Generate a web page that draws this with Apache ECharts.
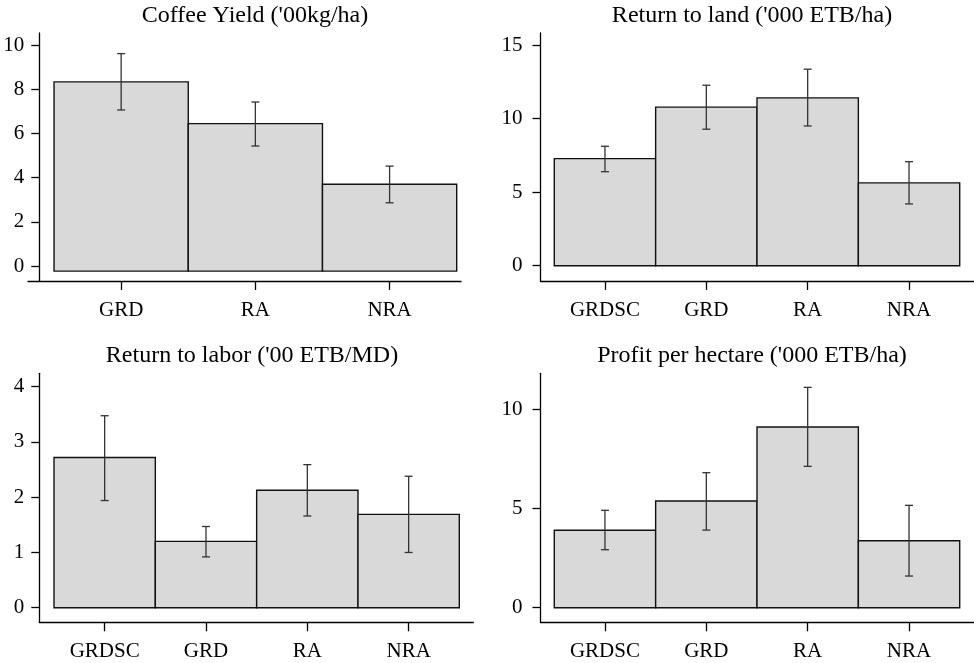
<!DOCTYPE html>
<html>
<head>
<meta charset="utf-8">
<script src="https://cdn.jsdelivr.net/npm/echarts@6/dist/echarts.min.js"></script>
<style>html,body{margin:0;padding:0;background:#fff}#c{width:974px;height:663px}</style>
</head>
<body>
<div id="c"></div>
<script>
// ---- data ----
const yieldCats = ['GRD', 'RA', 'NRA'];
const yieldMean = [8.33, 6.44, 3.70];
const yieldLo = [7.06, 5.43, 2.86];
const yieldHi = [9.61, 7.42, 4.52];
const yieldTicks = [0, 2, 4, 6, 8, 10];
const yieldBase = -0.23;

const cats = ['GRDSC', 'GRD', 'RA', 'NRA'];

const landMean = [7.28, 10.78, 11.41, 5.63];
const landLo = [6.39, 9.28, 9.50, 4.20];
const landHi = [8.12, 12.27, 13.36, 7.07];
const landTicks = [0, 5, 10, 15];

const laborMean = [2.72, 1.20, 2.125, 1.69];
const laborLo = [1.94, 0.92, 1.66, 1.00];
const laborHi = [3.475, 1.47, 2.59, 2.38];
const laborTicks = [0, 1, 2, 3, 4];

const profitMean = [3.91, 5.39, 9.13, 3.38];
const profitLo = [2.93, 3.92, 7.14, 1.60];
const profitHi = [4.92, 6.82, 11.13, 5.17];
const profitTicks = [0, 5, 10];

const titles = ["Coffee Yield ('00kg/ha)", "Return to land ('000 ETB/ha)", "Return to labor ('00 ETB/MD)", "Profit per hectare ('000 ETB/ha)"];

// ---- layout ----
const FONT = 'Liberation Serif';
const panels = [
  {title: titles[0], cats: yieldCats, mean: yieldMean, lo: yieldLo, hi: yieldHi, ticks: yieldTicks, base: yieldBase,
   grid: {left: 28, top: 33, width: 433, height: 248}, x: [-0.694, 2.532], y: [-0.679, 10.543], yOff: -11.3, yMargin: 15, tx: 250, ty: -1},
  {title: titles[1], cats: cats, mean: landMean, lo: landLo, hi: landHi, ticks: landTicks, base: 0,
   grid: {left: 540.5, top: 33, width: 433.2, height: 248}, x: [-0.636, 3.638], y: [-1.04, 15.82], yOff: 0, yMargin: 18, tx: 747, ty: -1},
  {title: titles[2], cats: cats, mean: laborMean, lo: laborLo, hi: laborHi, ticks: laborTicks, base: 0,
   grid: {left: 39.3, top: 373.3, width: 434, height: 249}, x: [-0.645, 3.638], y: [-0.264, 4.243], yOff: 0, yMargin: 15, tx: 247, ty: 339},
  {title: titles[3], cats: cats, mean: profitMean, lo: profitLo, hi: profitHi, ticks: profitTicks, base: 0,
   grid: {left: 540.5, top: 373.3, width: 433.2, height: 249}, x: [-0.636, 3.638], y: [-0.737, 11.84], yOff: 0, yMargin: 18, tx: 747, ty: 339}
];

const option = {
  animation: false,
  backgroundColor: '#fff',
  title: [], grid: [], xAxis: [], yAxis: [], series: []
};

panels.forEach((p, k) => {
  option.title.push({
    text: p.title, left: p.tx, top: p.ty, textAlign: 'center',
    textStyle: {fontFamily: FONT, fontSize: 24, fontWeight: 'normal', color: '#000'}
  });
  option.grid.push(Object.assign({containLabel: false, outerBoundsMode: 'none'}, p.grid));
  const idx = p.cats.map((c, i) => i);
  option.xAxis.push({
    type: 'value', gridIndex: k, min: p.x[0], max: p.x[1],
    axisLine: {show: true, onZero: false, lineStyle: {color: '#000', width: 1.3}},
    axisTick: {show: true, customValues: idx, length: 9, lineStyle: {color: '#000', width: 1.3}},
    axisLabel: {show: true, customValues: idx, margin: 19, formatter: v => p.cats[Math.round(v)],
      fontFamily: FONT, fontSize: 21, color: '#000'},
    splitLine: {show: false}
  });
  option.yAxis.push({
    type: 'value', gridIndex: k, min: p.y[0], max: p.y[1], offset: p.yOff,
    axisLine: {show: true, onZero: false, lineStyle: {color: '#000', width: 1.3}},
    axisTick: {show: true, customValues: p.ticks, length: 8, lineStyle: {color: '#000', width: 1.3}},
    axisLabel: {show: true, customValues: p.ticks, margin: p.yMargin, fontFamily: FONT, fontSize: 21, color: '#000'},
    splitLine: {show: false}
  });
  option.series.push({
    type: 'custom', xAxisIndex: k, yAxisIndex: k,
    data: p.mean.map((m, i) => [i, m]),
    renderItem: (params, api) => {
      const i = api.value(0), m = api.value(1);
      const a = api.coord([i - 0.5, m]);
      const b = api.coord([i + 0.5, p.base]);
      return {type: 'rect', shape: {x: a[0], y: a[1], width: b[0] - a[0], height: b[1] - a[1]},
        style: {fill: '#d9d9d9', stroke: '#111', lineWidth: 1.4}};
    }
  });
  option.series.push({
    type: 'custom', xAxisIndex: k, yAxisIndex: k, z: 3,
    data: p.mean.map((m, i) => [i, p.lo[i], p.hi[i]]),
    renderItem: (params, api) => {
      const i = api.value(0);
      const lo = api.coord([i, api.value(1)]);
      const hi = api.coord([i, api.value(2)]);
      const w = 4;
      const st = {stroke: '#333', lineWidth: 1.3};
      return {type: 'group', children: [
        {type: 'line', shape: {x1: lo[0], y1: lo[1], x2: hi[0], y2: hi[1]}, style: st},
        {type: 'line', shape: {x1: lo[0] - w, y1: lo[1], x2: lo[0] + w, y2: lo[1]}, style: st},
        {type: 'line', shape: {x1: hi[0] - w, y1: hi[1], x2: hi[0] + w, y2: hi[1]}, style: st}
      ]};
    }
  });
});

const chart = echarts.init(document.getElementById('c'), null, {renderer: 'canvas'});
chart.setOption(option);
</script>
</body>
</html>
